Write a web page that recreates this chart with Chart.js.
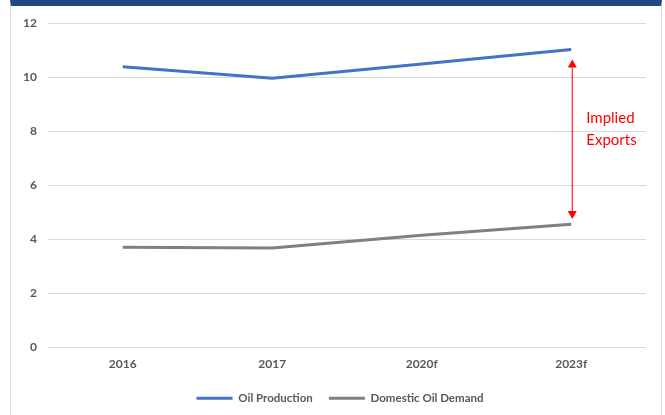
<!DOCTYPE html>
<html>
<head>
<meta charset="utf-8">
<script src="https://cdn.jsdelivr.net/npm/chart.js@4/dist/chart.umd.min.js"></script>
<style>
    html, body { margin: 0; padding: 0; background: #fff; }
    #frame {
        position: absolute; left: 10px; top: 0; width: 652px; height: 415px;
        border-top: 6px solid #1F497D; border-left: 1px solid #d9d9d9; border-right: 1px solid #d9d9d9;
        box-sizing: border-box;
    }
    #wrap { position: absolute; left: 0; top: 0; width: 665px; height: 415px; }
</style>
</head>
<body>
<div id="frame"></div>
<div id="wrap"><canvas id="chart"></canvas></div>
<script>
    const years = ['2016', '2017', '2020f', '2023f'];
    const oilProduction = [10.38, 9.96, 10.48, 11.02];
    const domesticDemand = [3.71, 3.68, 4.15, 4.56];
    const yTicks = [0, 2, 4, 6, 8, 10, 12];

    // arrow between the two series at the last year
    const arrowTop = 10.65;
    const arrowBottom = 4.75;
    const noteLines = ['Implied', 'Exports'];
    const noteValues = [8.47, 7.66];

    const fontFamily = 'Lato, "Open Sans", sans-serif';
    const textGrey = '#595959';

    const impliedExports = {
        id: 'impliedExports',
        afterLayout: function (chart) {
            // legend sits centred under the plot, not the whole canvas
            chart.legend.left += 17;
            chart.legend.right += 17;
        },
        afterDatasetsDraw: function (chart) {
            const ctx = chart.ctx;
            const x = chart.scales.x.getPixelForValue(years.length - 1) + 1;
            const y1 = chart.scales.y.getPixelForValue(arrowTop);
            const y2 = chart.scales.y.getPixelForValue(arrowBottom);
            const head = 8;
            ctx.save();
            ctx.strokeStyle = '#FF0000';
            ctx.fillStyle = '#FF0000';
            ctx.lineWidth = 1;
            ctx.beginPath();
            ctx.moveTo(x, y1 + head);
            ctx.lineTo(x, y2 - head);
            ctx.stroke();
            ctx.beginPath();
            ctx.moveTo(x, y1);
            ctx.lineTo(x - 4.5, y1 + head);
            ctx.lineTo(x + 4.5, y1 + head);
            ctx.closePath();
            ctx.fill();
            ctx.beginPath();
            ctx.moveTo(x, y2);
            ctx.lineTo(x - 4.5, y2 - head);
            ctx.lineTo(x + 4.5, y2 - head);
            ctx.closePath();
            ctx.fill();
            ctx.font = '15px ' + fontFamily;
            ctx.textAlign = 'left';
            ctx.textBaseline = 'middle';
            noteLines.forEach(function (line, i) {
                ctx.fillText(line, x + 14, chart.scales.y.getPixelForValue(noteValues[i]));
            });
            ctx.restore();
        }
    };

    new Chart(document.getElementById('chart').getContext('2d'), {
        type: 'line',
        data: {
            labels: years,
            datasets: [
                {
                    label: 'Oil Production',
                    data: oilProduction,
                    borderColor: '#4472C4',
                    backgroundColor: '#4472C4',
                    borderWidth: 3,
                    pointRadius: 0,
                    tension: 0
                },
                {
                    label: 'Domestic Oil Demand',
                    data: domesticDemand,
                    borderColor: '#808080',
                    backgroundColor: '#808080',
                    borderWidth: 3,
                    pointRadius: 0,
                    tension: 0
                }
            ]
        },
        options: {
            responsive: true,
            maintainAspectRatio: false,
            animation: false,
            layout: { padding: { top: 23, right: 19, left: 0, bottom: 1 } },
            scales: {
                x: {
                    offset: true,
                    grid: { display: false, drawTicks: false },
                    border: { display: false },
                    ticks: { color: textGrey, font: { family: fontFamily, size: 12, weight: 'bold' }, padding: 9 },
                    afterFit: function (scale) { scale.height = 29; }
                },
                y: {
                    min: 0,
                    max: 12,
                    afterBuildTicks: function (scale) {
                        scale.ticks = yTicks.map(function (v) { return { value: v }; });
                    },
                    grid: { color: '#d9d9d9', lineWidth: 1, drawTicks: false },
                    border: { display: false },
                    ticks: { color: textGrey, font: { family: fontFamily, size: 12, weight: 'bold' }, padding: 11 },
                    afterFit: function (scale) { scale.width = 48; }
                }
            },
            plugins: {
                legend: {
                    position: 'bottom',
                    labels: {
                        color: textGrey,
                        font: { family: fontFamily, size: 11.5, weight: 'bold' },
                        boxWidth: 36,
                        boxHeight: 3,
                        padding: 16,
                        generateLabels: function (chart) {
                            return chart.data.datasets.map(function (ds, i) {
                                return {
                                    text: ds.label,
                                    fillStyle: ds.borderColor,
                                    strokeStyle: ds.borderColor,
                                    lineWidth: 0,
                                    fontColor: textGrey,
                                    datasetIndex: i
                                };
                            });
                        }
                    }
                },
                tooltip: { enabled: false }
            }
        },
        plugins: [impliedExports]
    });
</script>
</body>
</html>
